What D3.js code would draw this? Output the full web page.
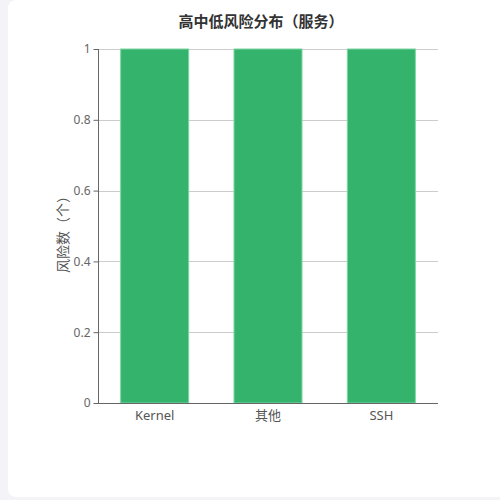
<!DOCTYPE html>
<html><head><meta charset="utf-8">
<script src="https://cdn.jsdelivr.net/npm/d3@7"></script>
<style>
html,body{margin:0;padding:0;background:#f3f3f8;overflow:hidden;}
svg{display:block;font-family:"Noto Sans","Noto Sans CJK SC",sans-serif;}
</style></head>
<body>
<svg id="c" width="500" height="500"></svg>
<script>
const title = "高中低风险分布（服务）";
const yAxisTitle = "风险数（个）";
const categories = ["Kernel", "其他", "SSH"];
const values = [1, 1, 1];
const yTicks = [0, 0.2, 0.4, 0.6, 0.8, 1];

const svg = d3.select("#c");
svg.append("rect").attr("x", 8).attr("y", 0).attr("width", 520).attr("height", 497)
  .attr("rx", 8).attr("fill", "#fff");

const m = {left: 98, right: 438, top: 49, bottom: 403};
const x = d3.scaleBand().domain(categories).range([m.left, m.right]).paddingInner(0.4).paddingOuter(0.2);
const y = d3.scaleLinear().domain([0, 1]).range([m.bottom, m.top]);

svg.append("text").attr("x", 261).attr("y", 27).attr("text-anchor", "middle")
  .attr("font-size", 15).attr("font-weight", "bold").attr("fill", "#333")
  .attr("font-family", "'Noto Sans CJK SC',sans-serif").text(title);

// grid
svg.append("g").selectAll("line").data(yTicks.filter(d => d > 0)).join("line")
  .attr("x1", m.left).attr("x2", m.right)
  .attr("y1", d => Math.round(y(d)) + 0.5).attr("y2", d => Math.round(y(d)) + 0.5)
  .attr("stroke", "#ccc").attr("stroke-width", 1);

// bars
svg.append("g").selectAll("rect").data(values).join("rect")
  .attr("x", (d, i) => x(categories[i]))
  .attr("width", x.bandwidth())
  .attr("y", d => y(d))
  .attr("height", d => y(0) - y(d))
  .attr("fill", "#33b36b")
  .attr("stroke", "#7dd6a2").attr("stroke-width", 1);

// y axis
const ya = svg.append("g").attr("transform", `translate(${m.left + 0.5},0)`)
  .call(d3.axisLeft(y).tickValues(yTicks).tickSize(5).tickPadding(3).tickFormat(d3.format("~g")));
ya.select(".domain").attr("stroke", "#666").attr("d", `M0,${m.top}V${m.bottom}`);
ya.selectAll(".tick line").attr("stroke", "#666");
ya.selectAll(".tick text").attr("fill", "#666").attr("font-size", 12)
  .attr("font-family", "'Noto Sans',sans-serif");

// x axis
const xa = svg.append("g").attr("transform", `translate(0,${m.bottom + 0.5})`)
  .call(d3.axisBottom(x).tickSize(0).tickPadding(7));
xa.select(".domain").attr("stroke", "#666").attr("d", `M${m.left},0H${m.right}`);
xa.selectAll(".tick text").attr("fill", "#555").attr("font-size", 13)
  .attr("font-family", "'Noto Sans','Noto Sans CJK SC',sans-serif");

// y title
svg.append("text").attr("transform", `translate(68,231) rotate(-90)`)
  .attr("text-anchor", "middle").attr("font-size", 14).attr("fill", "#555")
  .attr("font-family", "'Noto Sans CJK SC',sans-serif").text(yAxisTitle);
</script>
</body></html>
